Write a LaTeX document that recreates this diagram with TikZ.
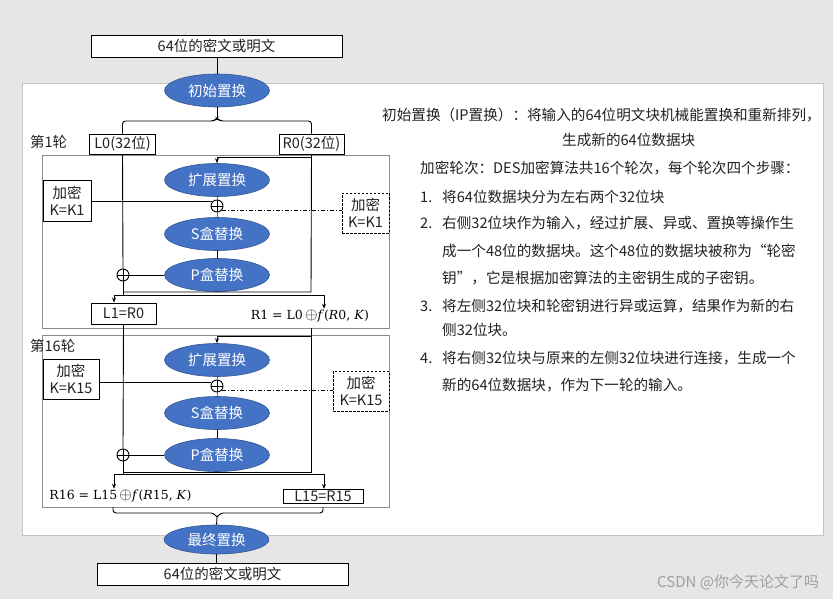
\documentclass[tikz,border=0pt]{standalone}
\usepackage[no-math]{fontspec}
\usepackage{graphicx}
\setmainfont{Noto Sans CJK SC}
\newfontfamily\mathser{DejaVu Serif}
\newcommand{\bigxor}{\,\raisebox{-0.5pt}{\scalebox{1.35}{$\oplus$}}}
\usetikzlibrary{shapes.geometric,arrows.meta,calc}
\definecolor{bg}{HTML}{E6E6E6}
\definecolor{ofblue}{HTML}{4472C4}
\definecolor{txt}{HTML}{222222}
\definecolor{frm}{HTML}{8C8C8C}
\definecolor{slideedge}{HTML}{C4C4C4}
\definecolor{wm}{HTML}{A0A0A0}
\begin{document}
\begin{tikzpicture}[x=1pt,y=-1pt,
  every node/.style={font=\fontsize{14.5}{17}\selectfont, text=txt},
  ln/.style={line width=0.9pt, draw=black},
  bln/.style={line width=0.9pt, draw=ofblue},
  box/.style={draw=black, line width=0.9pt, fill=white, inner sep=0pt, align=center},
  dbox/.style={box, dashed, dash pattern=on 2.5pt off 1.5pt},
  oval/.style={ellipse, fill=ofblue, draw=ofblue!75!black, line width=0.6pt, text=white, minimum width=105pt, minimum height=33pt, inner sep=0pt},
  xorn/.style={circle, draw=black, line width=0.9pt, fill=white, minimum size=12pt, inner sep=0pt,
    path picture={\draw[line width=0.9pt] (path picture bounding box.north) -- (path picture bounding box.south)
      (path picture bounding box.west) -- (path picture bounding box.east);}},
  frame/.style={draw=frm, line width=1pt, inner sep=0pt, anchor=north west},
  arr/.style={-{Stealth[length=5pt,width=4pt]}, line width=0.9pt},
  para/.style={anchor=west, inner sep=0pt, font=\fontsize{14.6}{17}\selectfont},
  formula/.style={inner sep=1pt, text=black, font=\mathser\fontsize{12.5}{15}\selectfont},
]
\useasboundingbox (0,0) rectangle (833,599);
\fill[bg] (0,0) rectangle (833,599);
\filldraw[fill=white, draw=slideedge, line width=1pt] (22,84) rectangle (823,535);

% round frames
\node[frame, minimum width=347pt, minimum height=173pt] (f1) at (42,155) {};
\node[frame, minimum width=347pt, minimum height=172pt] (f16) at (42,335) {};
\node[anchor=west, inner sep=0pt] (lab1) at (30,142) {第1轮};
\node[anchor=west, inner sep=0pt] (lab16) at (30,346) {第16轮};

% top
\node[box, minimum width=251pt, minimum height=22pt] (in) at (216.5,46) {64位的密文或明文};
\node[oval] (init) at (217,90.5) {初始置换};
\draw[ln] (in.south -| init.north) -- (init.north);
\coordinate (tip1) at (217,118);
\draw[ln] (init.south) -- (tip1);
\node[box, minimum width=66pt, minimum height=20pt] (L0) at (122.5,144) {L0(32位)};
\node[box, minimum width=65pt, minimum height=20pt] (R0) at (311.5,144) {R0(32位)};
\draw[ln, rounded corners=3pt] (L0.north) |- ($(tip1)+(-3,3)$) -- (tip1) -- ($(tip1)+(3,3)$) -| (R0.north);

% round 1
\node[oval] (E1) at (217,180) {扩展置换};
\node[xorn] (x1) at (217,206) {};
\node[oval] (S1) at (217,234) {S盒替换};
\node[oval] (P1) at (217,275) {P盒替换};
\node[xorn] (xl1) at (123,275) {};
\node[box, minimum width=48pt, minimum height=41pt] (K1l) at (67,200.5) {加密\\K=K1};
\node[dbox, minimum width=47pt, minimum height=40pt] (K1r) at (365.5,213) {加密\\K=K1};
\coordinate (t1) at (311,157);
\coordinate (b1r) at (311,292);
\coordinate (b1l) at (123,292);
\coordinate (j1) at (123,295);
\coordinate (j1l) at (114,295);
\coordinate (j1r) at (324,295);
\draw[ln] (R0.south) -- (b1r) -- (b1l);
\draw[ln, arr] (t1) -| (E1.north);
\draw[bln] (E1.south) -- (x1.north);
\draw[bln] (x1.south) -- (S1.north);
\draw[ln] (S1.south) -- (P1.north);
\draw[ln] (P1.west) -- (xl1.east);
\draw[ln] (K1l.east |- x1.135) -- (x1.135);
\draw[ln, dash pattern=on 4pt off 2pt on 1pt off 2pt] (x1.-45) -- (K1r.west |- x1.-45);
\draw[ln] (L0.south) -- (xl1.north);
\draw[ln] (xl1.south) -- (j1);
\draw[ln] (j1l) -- (j1r);
\node[box, minimum width=65pt, minimum height=21pt] (L1) at (123.5,313.5) {L1=R0};
\node[formula] (R1) at (310,316) {R1 = L0\bigxor\textit{f}(\textit{R}0, \textit{K})};
\draw[arr] (j1l) -- (j1l |- L1.north);
\draw[arr] (j1r) -- (j1r |- R1.north);

% round 16
\node[oval] (E16) at (217,360) {扩展置换};
\node[xorn] (x16) at (217,386) {};
\node[oval] (S16) at (217,413) {S盒替换};
\node[oval] (P16) at (217,455) {P盒替换};
\node[xorn] (xl16) at (123,455) {};
\node[box, minimum width=56pt, minimum height=40pt] (K15l) at (71,379) {加密\\K=K15};
\node[dbox, minimum width=56pt, minimum height=40pt] (K15r) at (361,391) {加密\\K=K15};
\coordinate (r1b) at (311,328);
\coordinate (t16) at (311,336);
\coordinate (b16r) at (311,472);
\coordinate (b16l) at (123,472);
\coordinate (j16) at (123,474);
\coordinate (j16l) at (114,474);
\coordinate (j16r) at (324,474);
\draw[ln] (r1b) -- (b16r) -- (b16l);
\draw[ln, arr] (t16) -| (E16.north);
\draw[bln] (E16.south) -- (x16.north);
\draw[bln] (x16.south) -- (S16.north);
\draw[ln] (S16.south) -- (P16.north);
\draw[ln] (P16.west) -- (xl16.east);
\draw[ln] (K15l.east |- x16.150) -- (x16.150);
\draw[ln, dash pattern=on 4pt off 2pt on 1pt off 2pt] (x16.-45) -- (K15r.west |- x16.-45);
\draw[ln] (L1.south) -- (xl16.north);
\draw[ln] (xl16.south) -- (j16);
\draw[ln] (j16l) -- (j16r);
\node[formula] (R16) at (120.5,496) {R16 = L15\bigxor\textit{f}(\textit{R}15, \textit{K})};
\node[box, minimum width=80pt, minimum height=14pt] (L15) at (323,496.5) {L15=R15};
\draw[arr] (j16l) -- (j16l |- R16.north);
\draw[arr] (j16r) -- (j16r |- L15.north);

% bottom
\node[oval, minimum height=29pt] (fin) at (216.5,539.5) {最终置换};
\coordinate (tip2) at (217,518);
\coordinate (bl) at (113,507);
\coordinate (br) at (323,507);
\draw[ln, rounded corners=3pt] (bl) |- ($(tip2)+(-3,-5)$) -- (tip2) -- ($(tip2)+(3,-5)$) -| (br);
\draw[ln] (tip2) -- (fin.north);
\node[box, minimum width=251pt, minimum height=22pt] (out) at (222.5,574) {64位的密文或明文};
\draw[ln] (fin.south) -- (fin.south |- out.north);

% right text
\node[para] (p1) at (382,115) {初始置换（IP置换）：将输入的64位明文块机械能置换和重新排列，};
\node[para] (p2) at (562,140) {生成新的64位数据块};
\node[para] (p3) at (420,168) {加密轮次：DES加密算法共16个轮次，每个轮次四个步骤：};
\node[para] (n1) at (420,197) {1.};
\node[para] (p4) at (442,197) {将64位数据块分为左右两个32位块};
\node[para] (n2) at (420,223) {2.};
\node[para] (p5) at (442,223) {右侧32位块作为输入，经过扩展、异或、置换等操作生};
\node[para] (p6) at (442,251) {成一个48位的数据块。这个48位的数据块被称为“轮密};
\node[para] (p7) at (442,278) {钥”，它是根据加密算法的主密钥生成的子密钥。};
\node[para] (n3) at (420,306) {3.};
\node[para] (p8) at (442,306) {将左侧32位块和轮密钥进行异或运算，结果作为新的右};
\node[para] (p9) at (442,330) {侧32位块。};
\node[para] (n4) at (420,358) {4.};
\node[para] (p10) at (442,358) {将右侧32位块与原来的左侧32位块进行连接，生成一个};
\node[para] (p11) at (442,385) {新的64位数据块，作为下一轮的输入。};

\node[anchor=west, inner sep=0pt, text=wm, font=\fontsize{15}{17}\selectfont] (csdn) at (657,582) {CSDN @你今天论文了吗};
\end{tikzpicture}
\end{document}
